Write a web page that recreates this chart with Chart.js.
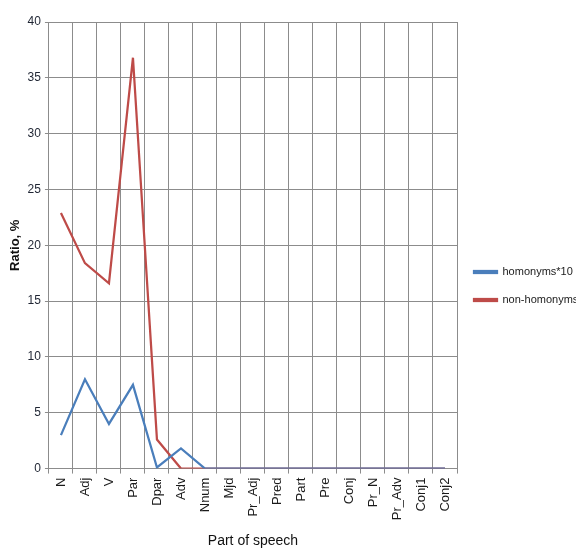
<!DOCTYPE html>
<html>
<head>
<meta charset="utf-8">
<script src="https://cdn.jsdelivr.net/npm/chart.js@4"></script>
<style>
  html, body { margin: 0; padding: 0; background: #fff; }
  #wrap { width: 576px; height: 550px; }
</style>
</head>
<body>
<div id="wrap"><canvas id="ratioChart" width="576" height="550"></canvas></div>
<script>
// parts of speech on the x axis
const categories = ['N', 'Adj', 'V', 'Par', 'Dpar', 'Adv', 'Nnum', 'Mjd', 'Pr_Adj', 'Pred',
    'Part', 'Pre', 'Conj', 'Pr_N', 'Pr_Adv', 'Conj1', 'Conj2'];

// values
const homonyms = [3.0, 8.0, 4.0, 7.5, 0.1, 1.8, 0, 0, 0, 0, 0, 0, 0, 0, 0, 0, 0];
const nonHomonyms = [22.9, 18.4, 16.6, 36.8, 2.6, 0, 0, 0, 0, 0, 0, 0, 0, 0, 0, 0, 0];

const yTicks = [0, 5, 10, 15, 20, 25, 30, 35, 40];

const gridColor = '#8c8c8c';

const ctx = document.getElementById('ratioChart').getContext('2d');

new Chart(ctx, {
    type: 'line',
    data: {
        labels: categories,
        datasets: [
            {
                label: 'homonyms*10',
                data: homonyms,
                borderColor: '#4A7EBB',
                backgroundColor: '#4A7EBB',
                borderWidth: 2.25,
                pointRadius: 0,
                tension: 0,
            },
            {
                label: 'non-homonyms',
                data: nonHomonyms,
                borderColor: '#BE4B48',
                backgroundColor: '#BE4B48',
                borderWidth: 2.25,
                pointRadius: 0,
                tension: 0,
            },
        ],
    },
    options: {
        responsive: false,
        animation: false,
        layout: {
            padding: { top: 22, right: 0, bottom: 0, left: 8 },
        },
        plugins: {
            tooltip: { enabled: false },
            legend: {
                position: 'right',
                align: 'center',
                maxWidth: 119,
                labels: {
                    boxWidth: 23,
                    boxHeight: 2,
                    padding: 17,
                    color: '#1a1a1a',
                    font: { family: 'Liberation Sans, Arial, sans-serif', size: 11 },
                },
            },
        },
        scales: {
            x: {
                offset: true,
                grid: { color: gridColor, lineWidth: 1, offset: true, drawTicks: true, tickLength: 5 },
                border: { color: gridColor },
                ticks: {
                    autoSkip: false,
                    maxRotation: 90,
                    minRotation: 90,
                    padding: 4,
                    color: '#1a1a1a',
                    font: { family: 'Liberation Sans, Arial, sans-serif', size: 13 },
                },
                title: {
                    display: true,
                    text: 'Part of speech',
                    color: '#111',
                    padding: { top: 9, bottom: 0 },
                    font: { family: 'Liberation Sans, Arial, sans-serif', size: 14 },
                },
            },
            y: {
                min: 0,
                max: 40,
                afterBuildTicks: (axis) => {
                    axis.ticks = yTicks.map((v) => ({ value: v }));
                },
                grid: { color: gridColor, lineWidth: 1, tickLength: 4 },
                border: { color: gridColor },
                ticks: {
                    padding: 4,
                    color: '#1f2533',
                    font: { family: 'Liberation Sans, Arial, sans-serif', size: 12 },
                },
                title: {
                    display: true,
                    text: 'Ratio, %',
                    color: '#111',
                    padding: { top: 0, bottom: 0 },
                    font: { family: 'Liberation Sans, Arial, sans-serif', size: 13, weight: 'bold' },
                },
            },
        },
    },
});
</script>
</body>
</html>
